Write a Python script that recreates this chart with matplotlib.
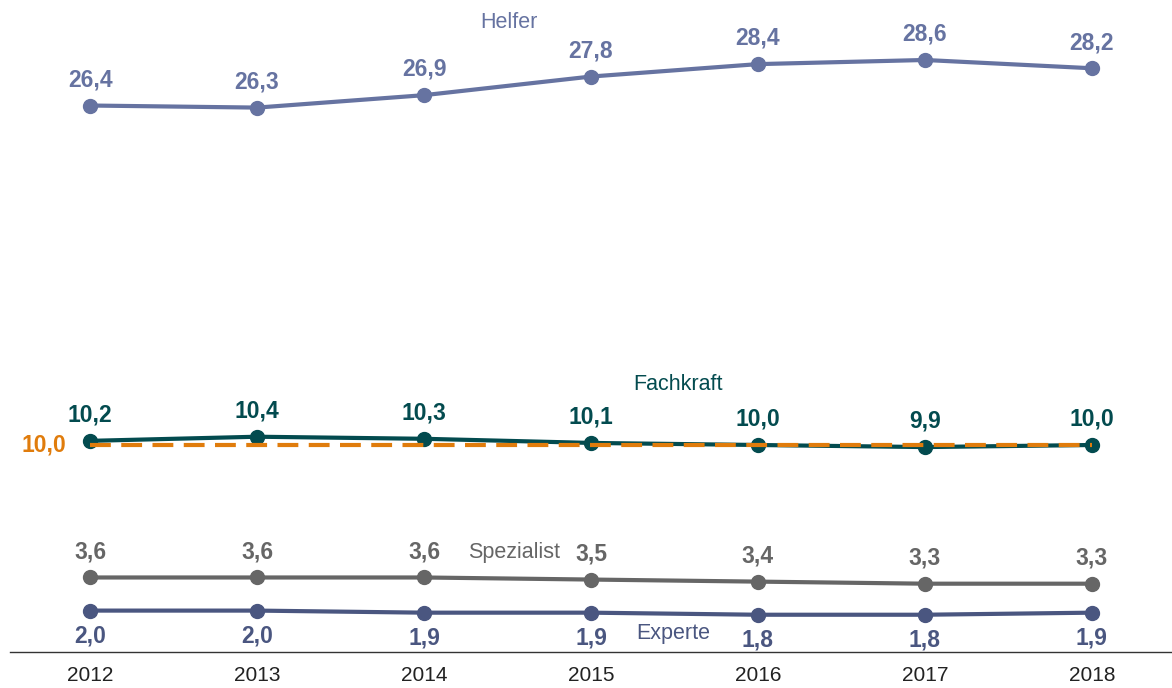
import numpy as np
import matplotlib.pyplot as plt

plt.rcParams['font.family'] = ['Liberation Sans', 'DejaVu Sans']

years = ['2012', '2013', '2014', '2015', '2016', '2017', '2018']
helfer = [26.4, 26.3, 26.9, 27.8, 28.4, 28.6, 28.2]
fachkraft = [10.2, 10.4, 10.3, 10.1, 10.0, 9.9, 10.0]
spezialist = [3.6, 3.6, 3.6, 3.5, 3.4, 3.3, 3.3]
experte = [2.0, 2.0, 1.9, 1.9, 1.8, 1.8, 1.9]
gesamt = 10.0

c_helfer = '#6673A1'
c_fach = '#034B4F'
c_spez = '#666666'
c_exp = '#4A5680'
c_orange = '#E07C0C'

fig = plt.figure(figsize=(11.72, 6.88), dpi=100)
ax = fig.add_axes([10/1172, 36/688, 1162/1172, 652/688])
x = np.arange(len(years))

def fmt(v):
    return f'{v:.1f}'.replace('.', ',')

series = [(helfer, c_helfer, 1), (fachkraft, c_fach, 1),
          (spezialist, c_spez, 1), (experte, c_exp, -1)]
for vals, col, side in series:
    ax.plot(x, vals, color=col, lw=3, marker='o', ms=10, zorder=3)
    for xi, v in zip(x, vals):
        ax.annotate(fmt(v), (xi, v), xytext=(0, 18.5*side), textcoords='offset points',
                    ha='center', va='center', fontsize=16.5, fontweight='bold', color=col)

ax.plot(x, [gesamt]*len(x), color=c_orange, lw=3, ls=(0, (5, 2.5)), zorder=4)
ax.annotate(fmt(gesamt), (0, gesamt), xytext=(-17, 0), textcoords='offset points',
            ha='right', va='center', fontsize=16.5, fontweight='bold', color=c_orange)

ax.text(2.51, 30.4, 'Helfer', ha='center', va='center', fontsize=15.5, color=c_helfer)
ax.text(3.52, 12.9, 'Fachkraft', ha='center', va='center', fontsize=15.5, color=c_fach)
ax.text(2.54, 4.8, 'Spezialist', ha='center', va='center', fontsize=15.5, color=c_spez)
ax.text(3.49, 0.87, 'Experte', ha='center', va='center', fontsize=15.5, color=c_exp)

ax.set_xlim(-0.48, 6.48)
ax.set_ylim(0, 652/20.7)
ax.set_xticks(x)
ax.set_xticklabels(years, fontsize=15, color='#222222')
ax.tick_params(axis='x', length=0, pad=10)
ax.set_yticks([])
for s in ['top', 'right', 'left']:
    ax.spines[s].set_visible(False)
ax.spines['bottom'].set_color('#333333')
ax.spines['bottom'].set_linewidth(1)

fig.savefig('out.png', dpi=100)
